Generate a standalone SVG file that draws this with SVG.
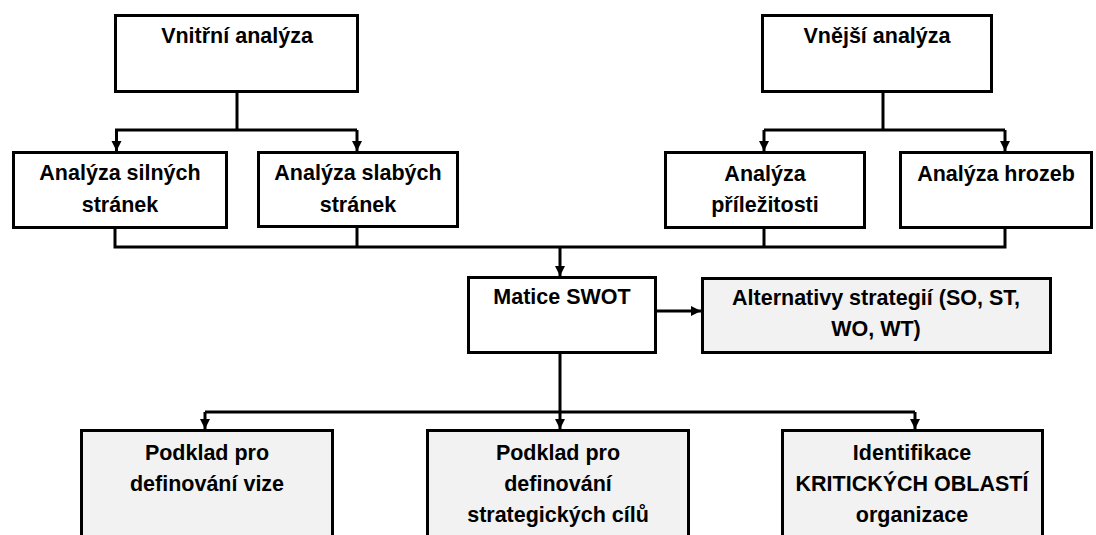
<svg xmlns="http://www.w3.org/2000/svg" width="1096" height="535" viewBox="0 0 1096 535">
<style>
.box{fill:#ffffff;stroke:#000000;stroke-width:3}
.gbox{fill:#f2f2f2;stroke:#000000;stroke-width:3}
.t{font-family:"Liberation Sans",Arial,sans-serif;font-weight:bold;font-size:21.5px;fill:#000000;text-anchor:middle}
.c{fill:none;stroke:#000000;stroke-width:3}
.a{fill:none;stroke:#000000;stroke-width:3;marker-end:url(#arr)}
</style>
<defs>
<marker id="arr" markerUnits="userSpaceOnUse" markerWidth="11" markerHeight="11" refX="10" refY="5.5" orient="auto">
<path d="M0,0.5 L10,5.5 L0,10.5 z" fill="#000000"/>
</marker>
</defs>
<rect x="0" y="0" width="1096" height="535" fill="#ffffff"/>
<g id="connectors">
<path class="c" d="M237,92 V130 M115,130 H357"/>
<path class="a" d="M116.5,130 V151"/>
<path class="a" d="M357,130 V151"/>
<path class="c" d="M883,92 V130 M764,130 H1005"/>
<path class="a" d="M764,130 V151"/>
<path class="a" d="M1005,130 V151"/>
<path class="c" d="M115,228 V247 H1005 V228 M357,226 V247 M764,228 V247"/>
<path class="a" d="M560,247 V276"/>
<path class="a" d="M656,311 H701"/>
<path class="c" d="M560,353 V412 M205,412 H915"/>
<path class="a" d="M205,412 V429"/>
<path class="a" d="M560,412 V429"/>
<path class="a" d="M915,412 V429"/>
</g>
<g id="vnitrni"><rect class="box" x="115.5" y="15.5" width="242" height="76"/><text class="t" x="237" y="43">Vnitřní analýza</text></g>
<g id="vnejsi"><rect class="box" x="762.5" y="15.5" width="229" height="76"/><text class="t" x="877" y="43">Vnější analýza</text></g>
<g id="silne"><rect class="box" x="13.5" y="152.5" width="213" height="75"/><text class="t" x="120" y="180">Analýza silných</text><text class="t" x="120" y="212">stránek</text></g>
<g id="slabe"><rect class="box" x="258.5" y="152.5" width="199" height="74"/><text class="t" x="358" y="180">Analýza slabých</text><text class="t" x="358" y="212">stránek</text></g>
<g id="prilezitosti"><rect class="box" x="665.5" y="152.5" width="199" height="75"/><text class="t" x="765" y="181">Analýza</text><text class="t" x="765" y="212">příležitosti</text></g>
<g id="hrozby"><rect class="box" x="900.5" y="152.5" width="191" height="75"/><text class="t" x="996" y="181">Analýza hrozeb</text></g>
<g id="matice"><rect class="box" x="468.5" y="277.5" width="187" height="75"/><text class="t" x="562" y="304">Matice SWOT</text></g>
<g id="alternativy"><rect class="gbox" x="702.5" y="278.5" width="348" height="74"/><text class="t" x="876" y="305">Alternativy strategií (SO, ST,</text><text class="t" x="876" y="336">WO, WT)</text></g>
<g id="vize"><rect class="gbox" x="81.5" y="430.5" width="251" height="120"/><text class="t" x="207" y="460">Podklad pro</text><text class="t" x="207" y="491">definování vize</text></g>
<g id="cile"><rect class="gbox" x="427.5" y="430.5" width="261" height="120"/><text class="t" x="558" y="460">Podklad pro</text><text class="t" x="558" y="491">definování</text><text class="t" x="558" y="522">strategických cílů</text></g>
<g id="kriticke"><rect class="gbox" x="782.5" y="430.5" width="260" height="120"/><text class="t" x="912" y="460">Identifikace</text><text class="t" x="912" y="491">KRITICKÝCH OBLASTÍ</text><text class="t" x="912" y="522">organizace</text></g>
</svg>
